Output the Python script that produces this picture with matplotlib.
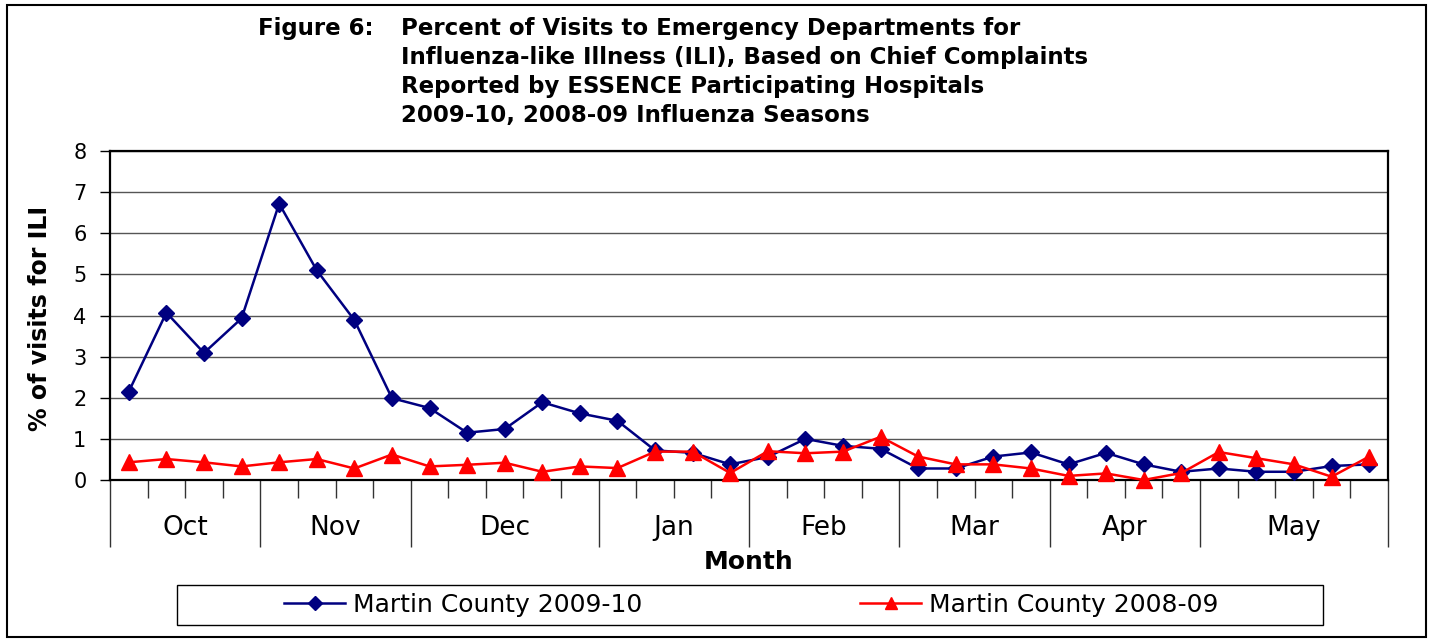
import matplotlib
matplotlib.use("Agg")
import matplotlib.pyplot as plt
from matplotlib.patches import Rectangle
from matplotlib.transforms import blended_transform_factory
import numpy as np

# the source chart's Arial is rendered wide; DejaVu Sans matches its widths better
plt.rcParams["font.family"] = ["DejaVu Sans"]

# ---- data ------------------------------------------------------------------
months = ["Oct", "Nov", "Dec", "Jan", "Feb", "Mar", "Apr", "May"]
weeks_per_month = [4, 4, 5, 4, 4, 4, 4, 5]

ili_2009_10 = [2.15, 4.07, 3.09, 3.93, 6.72, 5.1, 3.89, 1.99, 1.75, 1.15, 1.24,
               1.89, 1.62, 1.44, 0.72, 0.66, 0.38, 0.56, 1.0, 0.83, 0.76, 0.28,
               0.28, 0.57, 0.67, 0.38, 0.66, 0.38, 0.2, 0.28, 0.2, 0.2, 0.34, 0.38]
ili_2008_09 = [0.43, 0.51, 0.43, 0.33, 0.43, 0.51, 0.28, 0.62, 0.33, 0.37, 0.42,
               0.2, 0.33, 0.29, 0.69, 0.69, 0.17, 0.7, 0.65, 0.69, 1.05, 0.57,
               0.38, 0.38, 0.28, 0.1, 0.16, 0.0, 0.17, 0.68, 0.53, 0.38, 0.08, 0.57]

title_lines = ["Percent of Visits to Emergency Departments for",
               "Influenza-like Illness (ILI), Based on Chief Complaints",
               "Reported by ESSENCE Participating Hospitals",
               "2009-10, 2008-09 Influenza Seasons"]

# ---- figure ----------------------------------------------------------------
W, H = 1429, 640
fig = plt.figure(figsize=(W / 100, H / 100), dpi=100)

def fx(px):
    return px / W

def fy(py):
    return 1 - py / H

ax = fig.add_axes([fx(110), fy(480), fx(1388) - fx(110), fy(151) - fy(480)])

x = np.arange(len(ili_2009_10))
ax.plot(x, ili_2009_10, color="#000080", lw=1.8, marker="D", ms=8.5,
        label="Martin County 2009-10", clip_on=False, zorder=3)
ax.plot(x, ili_2008_09, color="#FF0000", lw=1.8, marker="^", ms=11,
        label="Martin County 2008-09", clip_on=False, zorder=4)

ax.set_xlim(-0.5, len(x) - 0.5)
ax.set_ylim(0, 8)
ax.set_yticks(range(9))
ax.tick_params(axis="y", labelsize=15, length=7, width=1, direction="out", pad=10)
ax.yaxis.grid(True, color="#555555", lw=1)
ax.set_axisbelow(True)
for s in ax.spines.values():
    s.set_linewidth(1.6)
    s.set_color("black")

# week ticks (short) and month separators (long)
bounds = np.concatenate([[0], np.cumsum(weeks_per_month)]) - 0.5
ax.set_xticks(bounds)
ax.set_xticklabels([])
ax.set_xticks(np.arange(len(x) + 1) - 0.5, minor=True)
ax.tick_params(axis="x", which="major", length=48, width=1, color="#333333")
ax.tick_params(axis="x", which="minor", length=13, width=1, color="#333333")

trans = blended_transform_factory(ax.transData, ax.transAxes)
centers = (bounds[:-1] + bounds[1:]) / 2
for m, c in zip(months, centers):
    ax.text(c, -0.145, m, transform=trans, ha="center", va="center", fontsize=19)

fig.text(fx(749), fy(562), "Month", ha="center", va="center", fontsize=18,
         fontweight="bold")
fig.text(fx(40), fy(318), "% of visits for ILI", ha="center", va="center",
         rotation=90, fontsize=17, fontweight="bold")

# title
fig.text(fx(258), fy(35), "Figure 6:", ha="left", va="baseline", fontsize=16.5,
         fontweight="bold")
for i, line in enumerate(title_lines):
    fig.text(fx(401), fy(35 + 29 * i), line, ha="left", va="baseline",
             fontsize=16.5, fontweight="bold")

# legend
fig.add_artist(Rectangle((fx(177), fy(625)), fx(1323) - fx(177), fy(585) - fy(625),
                         transform=fig.transFigure, fill=False, ec="black", lw=1))
fig.legend(loc="center left", bbox_to_anchor=(fx(284), fy(605)), ncol=2,
           frameon=False, fontsize=18, handlelength=2.45, handletextpad=0.32,
           columnspacing=8.7, borderpad=0, borderaxespad=0, markerscale=0.85)

# outer border
fig.add_artist(Rectangle((fx(7), fy(637)), fx(1426) - fx(7), fy(5) - fy(637),
                         transform=fig.transFigure, fill=False, ec="black", lw=1.5))

fig.savefig("out.png", dpi=100)
